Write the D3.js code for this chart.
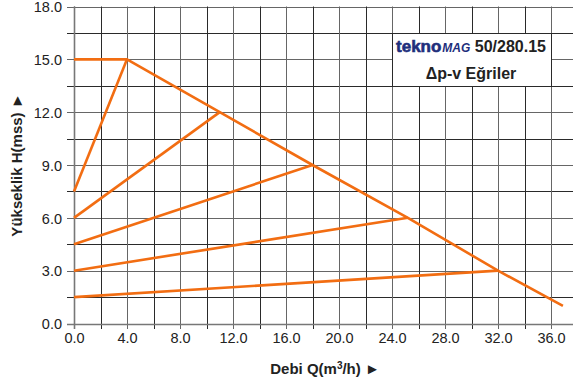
<!DOCTYPE html>
<html>
<head>
<meta charset="utf-8">
<script src="https://cdn.jsdelivr.net/npm/d3@7"></script>
<style>
  html, body { margin: 0; padding: 0; background: #fff; }
  svg { display: block; font-family: "Liberation Sans", Arial, Helvetica, sans-serif; }
</style>
</head>
<body>
<svg id="chart" width="573" height="387"></svg>
<script>
// ---- Data ----
const xTicks = [0, 4, 8, 12, 16, 20, 24, 28, 32, 36];
const yTicks = [0, 3, 6, 9, 12, 15, 18];
const xGrid = d3.range(0, 37, 2);
const yGrid = d3.range(0, 18.01, 1.5);

// maximum curve (Q, H)
const maxCurveQ = [0, 4, 11, 18, 25.2, 32, 36.9];
const maxCurveH = [15, 15, 12, 9, 6, 3, 1.0];

// Δp-v lines: start head at Q=0 and end point on maximum curve
const lineStartH = [7.5, 6, 4.5, 3, 1.5];
const lineEndQ = [4, 11, 18, 25.2, 32];
const lineEndH = [15, 12, 9, 6, 3];

const xLabel = "Debi Q(m³/h) ►";
const yLabel = "Yükseklik H(mss) ►";
const titleBrand = "tekno";
const titleBrand2 = "MAG";
const titleModel = " 50/280.15";
const subtitle = "Δp-v Eğriler";

// ---- Layout ----
const W = 573, H = 387;
const svg = d3.select("#chart");
const x = d3.scaleLinear().domain([0, 36]).range([74, 551]);
const y = d3.scaleLinear().domain([0, 18]).range([323.5, 6.5]);
const gridColor = "#2a2a2a";
const majorColor = "#666";
const orange = "#f26d12";

// horizontal grid lines (extend left as ticks, right to edge)
svg.append("g").selectAll("line").data(yGrid).join("line")
  .attr("x1", 67).attr("x2", W)
  .attr("y1", d => Math.round(y(d)) + 0.5).attr("y2", d => Math.round(y(d)) + 0.5)
  .attr("stroke", d => (d % 3 === 0 ? majorColor : gridColor)).attr("stroke-width", 1);

// vertical grid lines (extend below axis as ticks)
svg.append("g").selectAll("line").data(xGrid).join("line")
  .attr("x1", d => Math.round(x(d)) + 0.5).attr("x2", d => Math.round(x(d)) + 0.5)
  .attr("y1", y(18)).attr("y2", 329)
  .attr("stroke", d => (d % 4 === 0 ? majorColor : gridColor)).attr("stroke-width", 1);

// axis lines
svg.append("line").attr("x1", Math.round(x(0)) + 0.5).attr("x2", Math.round(x(0)) + 0.5)
  .attr("y1", y(18)).attr("y2", 329).attr("stroke", "#777").attr("stroke-width", 1.6);
svg.append("line").attr("x1", 67).attr("x2", W)
  .attr("y1", Math.round(y(0)) + 0.5).attr("y2", Math.round(y(0)) + 0.5)
  .attr("stroke", "#777").attr("stroke-width", 1.6);

// tick labels through d3 axes
const xAxis = d3.axisBottom(x).tickValues(xTicks).tickFormat(d3.format(".1f")).tickSize(0).tickPadding(0);
const gx = svg.append("g").attr("transform", "translate(0,331)").call(xAxis);
gx.select(".domain").remove();
gx.selectAll("text").attr("font-size", 14.5).attr("fill", "#222")
  .attr("font-family", "Liberation Sans, Arial, sans-serif").attr("dy", "0.85em");

const yAxis = d3.axisLeft(y).tickValues(yTicks).tickFormat(d3.format(".1f")).tickSize(0).tickPadding(0);
const gy = svg.append("g").attr("transform", "translate(62,0)").call(yAxis);
gy.select(".domain").remove();
gy.selectAll("text").attr("font-size", 14.5).attr("fill", "#222")
  .attr("font-family", "Liberation Sans, Arial, sans-serif").attr("dy", "0.36em");

// legend box
const lg = svg.append("g");
lg.append("rect")
  .attr("x", Math.round(x(24)) + 0.5).attr("y", Math.round(y(16.5)) + 0.5)
  .attr("width", Math.round(x(36)) - Math.round(x(24)))
  .attr("height", Math.round(y(13.5)) - Math.round(y(16.5)))
  .attr("fill", "#fff").attr("stroke", gridColor).attr("stroke-width", 1);
const t1 = lg.append("text").attr("x", 471).attr("y", 52).attr("text-anchor", "middle");
t1.append("tspan").text(titleBrand).attr("font-size", 17).attr("font-weight", "bold")
  .attr("fill", "#1e2f7c").attr("stroke", "#1e2f7c").attr("stroke-width", 0.6);
t1.append("tspan").text(titleBrand2).attr("font-size", 12).attr("font-weight", "bold")
  .attr("font-style", "italic").attr("fill", "#1e2f7c").attr("dx", 1);
t1.append("tspan").text(titleModel).attr("font-size", 16).attr("font-weight", "bold").attr("fill", "#222");
lg.append("text").attr("x", 471).attr("y", 79).attr("text-anchor", "middle")
  .attr("font-size", 16).attr("font-weight", "bold").attr("fill", "#222").text(subtitle);

// curves
const line = d3.line().x(d => x(d[0])).y(d => y(d[1]));
const curves = svg.append("g").attr("fill", "none").attr("stroke", orange)
  .attr("stroke-width", 2.6).attr("stroke-linejoin", "round");
curves.append("path").attr("d", line(maxCurveQ.map((q, i) => [q, maxCurveH[i]])));
lineStartH.forEach((h0, i) => {
  curves.append("path").attr("d", line([[0, h0], [lineEndQ[i], lineEndH[i]]]));
});

// axis titles
svg.append("text").attr("x", 325).attr("y", 374).attr("text-anchor", "middle")
  .attr("font-size", 15).attr("font-weight", "bold").attr("fill", "#222")
  .html('Debi Q(m<tspan baseline-shift="super" font-size="10">3</tspan>/h) ►');
svg.append("text").attr("transform", "translate(22,165) rotate(-90)").attr("text-anchor", "middle")
  .attr("font-size", 15).attr("font-weight", "bold").attr("fill", "#222").text(yLabel);
</script>
</body>
</html>
